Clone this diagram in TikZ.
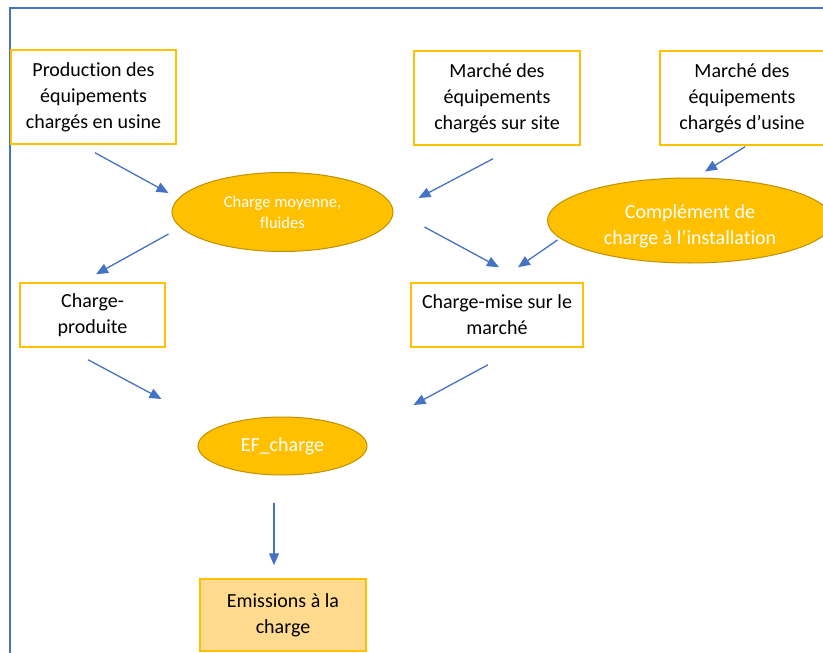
\documentclass[tikz,border=0pt]{standalone}
\usepackage{fontspec}
\setmainfont[Ligatures=NoCommon]{Carlito}
\usetikzlibrary{arrows.meta, shapes.geometric}

\definecolor{cadre}{HTML}{4472C4}
\definecolor{ocre}{HTML}{FFC000}
\definecolor{ocrefonce}{HTML}{BF9000}
\definecolor{ocreclair}{HTML}{FFDA8F}

\begin{document}
\begin{tikzpicture}[x=1pt, y=-1pt,
		boite/.style={draw=ocre, line width=1.5pt, rectangle, align=center, inner sep=0pt, font=\fontsize{20}{26}\selectfont},
		bulle/.style={draw=ocrefonce, line width=1pt, fill=ocre, ellipse, text=white, align=center, inner sep=0pt, font=\fontsize{20}{26}\selectfont},
		fleche/.style={draw=cadre, line width=1.3pt, -{Triangle[length=12pt, width=10pt]}}]
							\useasboundingbox (0,0) rectangle (823,653);
							\draw[cadre, line width=2pt] (10,7.5) rectangle (860,690);

							% sources
							\node[boite, minimum width=165pt, minimum height=94pt] (prod) at (93.5,97) {Production des\\équipements\\chargés en usine};
							\node[boite, minimum width=166pt, minimum height=94pt] (site) at (497,98) {Marché des\\équipements\\chargés sur site};
							\node[boite, minimum width=164pt, minimum height=94pt] (usine) at (742,98) {Marché des\\équipements\\chargés d’usine};

							\node[bulle, minimum width=221pt, minimum height=79pt, font=\fontsize{16.5}{21}\selectfont] (moy) at (282.5,212) {Charge moyenne,\\fluides};
							\node[bulle, minimum width=285pt, minimum height=85pt] (compl) at (690,220.5) {\raisebox{-6pt}[\height][\depth]{Complément de}\\\raisebox{-6pt}[\height][\depth]{charge à l’installation}};

							\node[boite, minimum width=145pt, minimum height=64pt] (prodc) at (92.5,315) {Charge-\\produite};
							\node[boite, minimum width=172pt, minimum height=64pt] (mise) at (497,315) {Charge-mise sur le\\marché};

							\node[bulle, minimum width=169pt, minimum height=58pt] (ef) at (282.5,446) {EF\_charge};
							\node[boite, fill=ocreclair, minimum width=166pt, minimum height=72pt] (emis) at (283,615) {Emissions à la\\charge};

							% fleches
							\draw[fleche] ([xshift=1.5pt, yshift=-8pt]prod.south) -- ([xshift=-3pt, yshift=19pt]moy.west);
							\draw[fleche] ([xshift=-3pt, yshift=-22pt]moy.west) -- ([xshift=3.5pt, yshift=8pt]prodc.north);
							\draw[fleche] ([xshift=-4pt, yshift=-13pt]site.south) -- ([xshift=25pt, yshift=14pt]moy.east);
							\draw[fleche] ([xshift=31pt, yshift=-15pt]moy.east) -- ([xshift=2pt, yshift=15pt]mise.north);
							\draw[fleche] ([xshift=3pt, yshift=-1pt]usine.south) -- ([xshift=15pt, yshift=6pt]compl.north);
							\draw[fleche] ([xshift=10.5pt, yshift=-19.5pt]compl.west) -- ([xshift=21pt, yshift=15pt]mise.north);
							\draw[fleche] ([xshift=-4.5pt, yshift=-12pt]prodc.south) -- ([xshift=-36pt, yshift=47pt]ef.west);
							\draw[fleche] ([xshift=-9pt, yshift=-17pt]mise.south) -- ([xshift=46pt, yshift=41pt]ef.east);
							\draw[fleche] ([xshift=-8.5pt, yshift=-27pt]ef.south) -- ([xshift=-9pt, yshift=13pt]emis.north);
						\end{tikzpicture}
\end{document}
